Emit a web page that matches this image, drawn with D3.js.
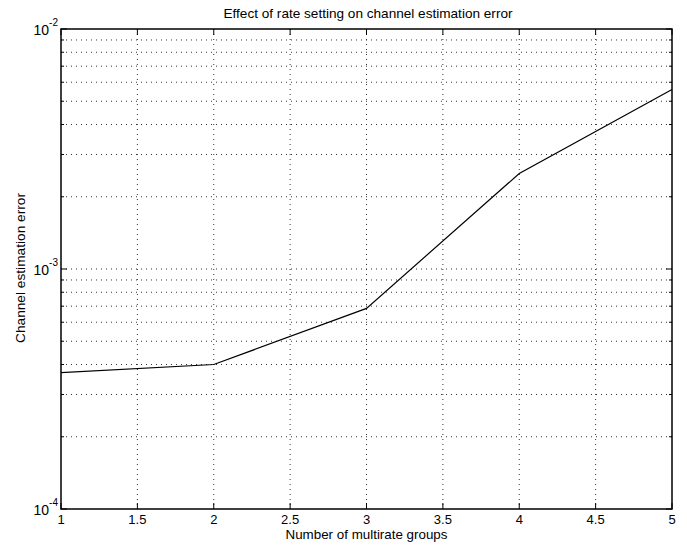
<!DOCTYPE html>
<html>
<head>
<meta charset="utf-8">
<script src="https://cdn.jsdelivr.net/npm/d3@7"></script>
<style>
  body { margin: 0; background: #fff; }
  text { font-family: "Liberation Sans", Arial, sans-serif; fill: #000; }
</style>
</head>
<body>
<div id="chart"></div>
<script>
// values
const groups = [1, 2, 3, 4, 5];
const errors = [3.7e-4, 4.0e-4, 6.85e-4, 2.5e-3, 5.6e-3];
const xTicks = [1, 1.5, 2, 2.5, 3, 3.5, 4, 4.5, 5];
const yDecades = [-4, -3, -2];

const width = 687, height = 547;
const margin = {top: 29, right: 15, bottom: 38, left: 61};
const w = width - margin.left - margin.right;
const h = height - margin.top - margin.bottom;

const svg = d3.select("#chart").append("svg")
  .attr("width", width)
  .attr("height", height);

const g = svg.append("g")
  .attr("transform", "translate(" + margin.left + "," + margin.top + ")");

const x = d3.scaleLinear().domain([1, 5]).range([0, w]);
const y = d3.scaleLog().domain([1e-4, 1e-2]).range([h, 0]);

// minor values 2..9 in each decade
const minor = [];
for (const e of [-4, -3]) {
  for (let k = 2; k <= 9; k++) minor.push(k * Math.pow(10, e));
}
const majors = yDecades.map(e => Math.pow(10, e));

// grid
const grid = g.append("g")
  .attr("stroke", "#333")
  .attr("stroke-width", 1)
  .attr("stroke-dasharray", "1,4");

grid.selectAll("line.gx")
  .data(xTicks.slice(1, -1))
  .join("line")
  .attr("x1", d => x(d)).attr("x2", d => x(d))
  .attr("y1", 0).attr("y2", h);

grid.selectAll("line.gy")
  .data(minor.concat([1e-3]))
  .join("line")
  .attr("x1", 0).attr("x2", w)
  .attr("y1", d => y(d)).attr("y2", d => y(d));

// tick marks inward, all four sides
const ticks = g.append("g").attr("stroke", "#000").attr("stroke-width", 1);
xTicks.forEach(d => {
  ticks.append("line").attr("x1", x(d)).attr("x2", x(d)).attr("y1", h).attr("y2", h - 6);
  ticks.append("line").attr("x1", x(d)).attr("x2", x(d)).attr("y1", 0).attr("y2", 6);
});
majors.forEach(d => {
  ticks.append("line").attr("x1", 0).attr("x2", 6).attr("y1", y(d)).attr("y2", y(d));
  ticks.append("line").attr("x1", w).attr("x2", w - 6).attr("y1", y(d)).attr("y2", y(d));
});
minor.forEach(d => {
  ticks.append("line").attr("x1", 0).attr("x2", 3).attr("y1", y(d)).attr("y2", y(d));
  ticks.append("line").attr("x1", w).attr("x2", w - 3).attr("y1", y(d)).attr("y2", y(d));
});

// box
g.append("rect")
  .attr("x", 0).attr("y", 0)
  .attr("width", w).attr("height", h)
  .attr("fill", "none")
  .attr("stroke", "#000")
  .attr("stroke-width", 1.5);

// x tick labels
g.append("g")
  .attr("font-size", 13)
  .selectAll("text")
  .data(xTicks)
  .join("text")
  .attr("x", d => x(d))
  .attr("y", h + 15)
  .attr("text-anchor", "middle")
  .text(d => d);

// y tick labels 10^e
const yl = g.append("g").attr("font-size", 14)
  .selectAll("text")
  .data(yDecades)
  .join("text")
  .attr("x", -3)
  .attr("y", d => y(Math.pow(10, d)) + 6)
  .attr("text-anchor", "end");
yl.append("tspan").text("10");
yl.append("tspan")
  .attr("font-size", 10)
  .attr("dy", -9)
  .text(d => "-" + Math.abs(d));

// the line
const line = d3.line()
  .x((d, i) => x(groups[i]))
  .y(d => y(d));

g.append("path")
  .datum(errors)
  .attr("fill", "none")
  .attr("stroke", "#000")
  .attr("stroke-width", 1.2)
  .attr("d", line);

// titles
svg.append("text")
  .attr("x", 368)
  .attr("y", 18)
  .attr("text-anchor", "middle")
  .attr("font-size", 13.5)
  .attr("textLength", 289)
  .attr("lengthAdjust", "spacingAndGlyphs")
  .text("Effect of rate setting on channel estimation error");

svg.append("text")
  .attr("x", margin.left + w / 2)
  .attr("y", 539)
  .attr("text-anchor", "middle")
  .attr("font-size", 13.5)
  .attr("textLength", 162)
  .attr("lengthAdjust", "spacingAndGlyphs")
  .text("Number of multirate groups");

svg.append("text")
  .attr("transform", "translate(25,268) rotate(-90)")
  .attr("text-anchor", "middle")
  .attr("font-size", 13.5)
  .attr("textLength", 150)
  .attr("lengthAdjust", "spacingAndGlyphs")
  .text("Channel estimation error");
</script>
</body>
</html>
